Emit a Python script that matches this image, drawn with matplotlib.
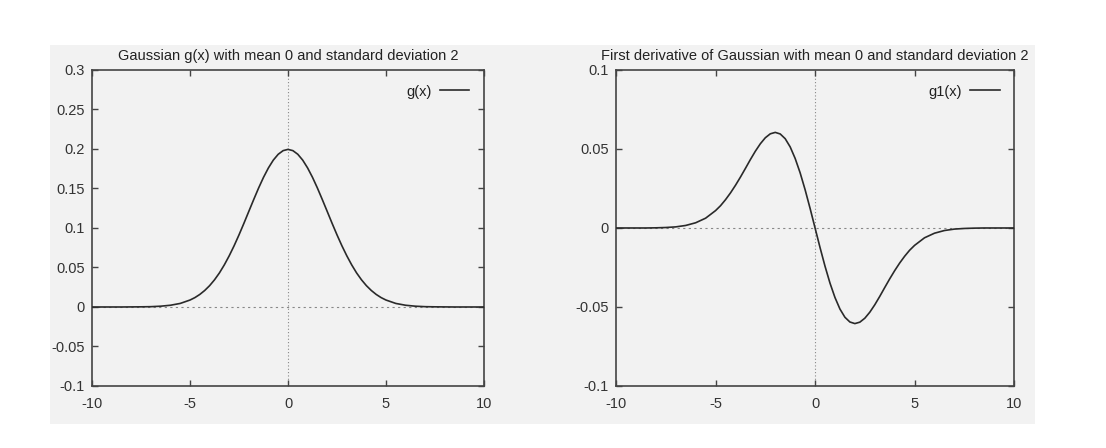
import matplotlib.pyplot as plt
from matplotlib.patches import Rectangle
from matplotlib.lines import Line2D

x = [-10.0, -9.5, -9.0, -8.5, -8.0, -7.5, -7.0, -6.5, -6.0, -5.5, -5.0,
     -4.75, -4.5, -4.25, -4.0, -3.75, -3.5, -3.25, -3.0, -2.75, -2.5,
     -2.25, -2.0, -1.75, -1.5, -1.25, -1.0, -0.75, -0.5, -0.25, 0.0,
     0.25, 0.5, 0.75, 1.0, 1.25, 1.5, 1.75, 2.0, 2.25, 2.5,
     2.75, 3.0, 3.25, 3.5, 3.75, 4.0, 4.25, 4.5, 4.75, 5.0,
     5.5, 6.0, 6.5, 7.0, 7.5, 8.0, 8.5, 9.0, 9.5, 10.0]

g = [0.0, 0.0, 0.0, 0.0, 0.0001, 0.0002, 0.0004, 0.0010, 0.0022, 0.0045, 0.0088,
     0.0119, 0.0159, 0.0209, 0.0270, 0.0344, 0.0431, 0.0533, 0.0648, 0.0775, 0.0913,
     0.1059, 0.1210, 0.1360, 0.1506, 0.1641, 0.1760, 0.1859, 0.1933, 0.1979, 0.1995,
     0.1979, 0.1933, 0.1859, 0.1760, 0.1641, 0.1506, 0.1360, 0.1210, 0.1059, 0.0913,
     0.0775, 0.0648, 0.0533, 0.0431, 0.0344, 0.0270, 0.0209, 0.0159, 0.0119, 0.0088,
     0.0045, 0.0022, 0.0010, 0.0004, 0.0002, 0.0001, 0.0, 0.0, 0.0, 0.0]

g1 = [0.0, 0.0, 0.0, 0.0, 0.0001, 0.0003, 0.0007, 0.0016, 0.0033, 0.0062, 0.0110,
      0.0141, 0.0179, 0.0222, 0.0270, 0.0322, 0.0377, 0.0433, 0.0486, 0.0533, 0.0571,
      0.0596, 0.0605, 0.0595, 0.0565, 0.0513, 0.0440, 0.0349, 0.0242, 0.0124, 0.0,
      -0.0124, -0.0242, -0.0349, -0.0440, -0.0513, -0.0565, -0.0595, -0.0605, -0.0596, -0.0571,
      -0.0533, -0.0486, -0.0433, -0.0377, -0.0322, -0.0270, -0.0222, -0.0179, -0.0141, -0.0110,
      -0.0062, -0.0033, -0.0016, -0.0007, -0.0003, -0.0001, 0.0, 0.0, 0.0, 0.0]

left_yticks = [-0.1, -0.05, 0, 0.05, 0.1, 0.15, 0.2, 0.25, 0.3]
right_yticks = [-0.1, -0.05, 0, 0.05, 0.1]
xticks = [-10, -5, 0, 5, 10]

plt.rcParams['font.family'] = ['Liberation Sans', 'DejaVu Sans']

fig = plt.figure(figsize=(11.06, 4.48), dpi=100)
fig.patch.set_facecolor('white')
fig.patches.append(Rectangle((0.0452, 0.0536), 0.8906, 0.846, transform=fig.transFigure,
                             facecolor='#f2f2f2', edgecolor='none', zorder=-5))

ax1 = fig.add_axes([0.0832, 0.1384, 0.3544, 0.7054])
ax2 = fig.add_axes([0.557, 0.1384, 0.3599, 0.7054])


def style(ax, xs, ys, yticks, ylim, title, label):
    ax.set_facecolor('#f2f2f2')
    ax.axhline(0, color='#888888', lw=0.8, ls=(0, (2, 3)), zorder=1)
    ax.axvline(0, color='#888888', lw=0.8, ls=(0, (1, 2)), zorder=1)
    ax.plot(xs, ys, color='#2a2a2a', lw=1.2, zorder=3)
    ax.set_xlim(-10, 10)
    ax.set_ylim(*ylim)
    ax.set_xticks(xticks)
    ax.set_xticklabels([str(t) for t in xticks])
    ax.set_yticks(yticks)
    ax.set_yticklabels(['%g' % t for t in yticks])
    ax.tick_params(direction='in', top=True, right=True, length=4, width=1,
                   color='#444444', labelsize=10.5, labelcolor='#333333', pad=5)
    ax.tick_params(axis='x', pad=8)
    for s in ax.spines.values():
        s.set_color('#444444')
        s.set_linewidth(1.2)
    ax.set_title(title, fontsize=10.5, color='#222222', pad=7)
    handle = Line2D([], [], color='#2a2a2a', lw=1.2)
    leg = ax.legend([handle], [label], loc='upper right', frameon=False,
                    markerfirst=False, fontsize=10.5, handlelength=2.0,
                    handletextpad=0.6, borderaxespad=0.6)
    for t in leg.get_texts():
        t.set_color('#222222')


style(ax1, x, g, left_yticks, (-0.1, 0.3),
      'Gaussian g(x) with mean 0 and standard deviation 2', 'g(x)')
style(ax2, x, g1, right_yticks, (-0.1, 0.1),
      'First derivative of Gaussian with mean 0 and standard deviation 2', 'g1(x)')

plt.savefig('out.png', dpi=100, facecolor=fig.get_facecolor())
